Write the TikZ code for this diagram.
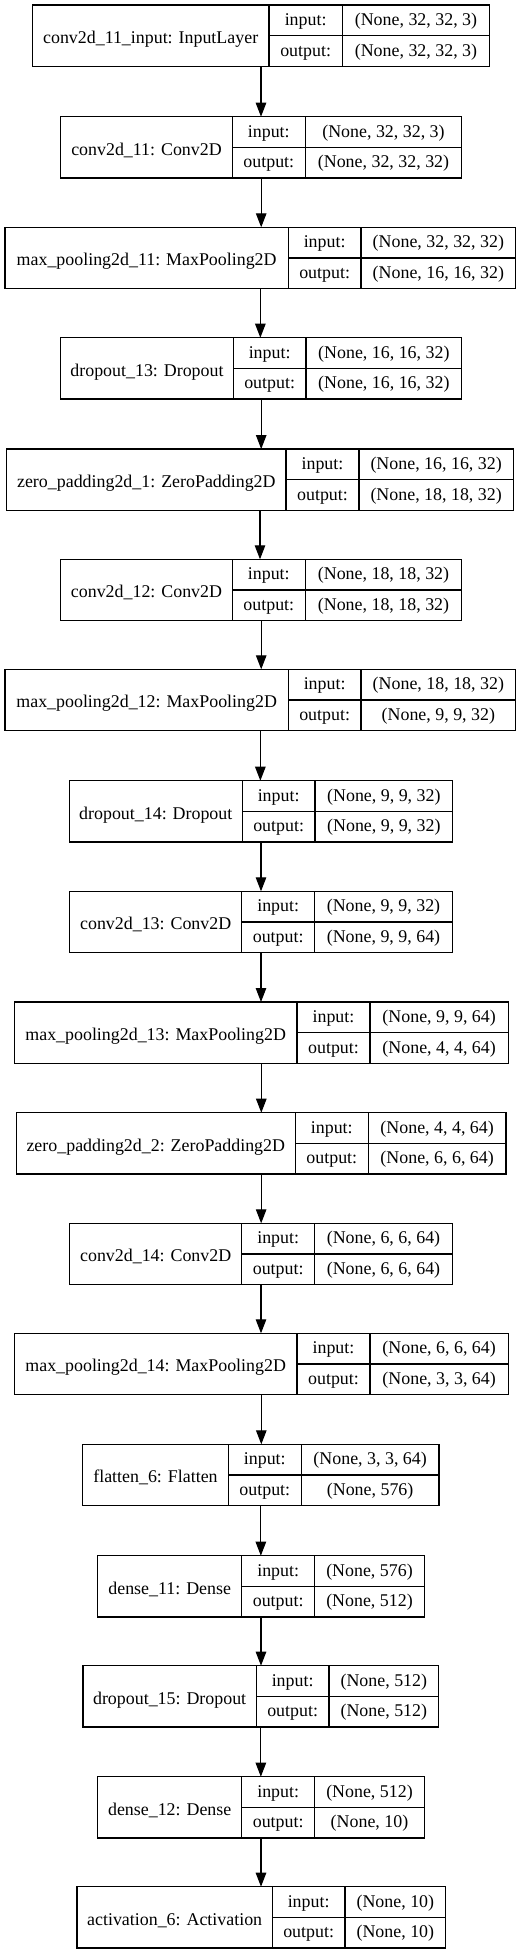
\documentclass[tikz,border=0pt]{standalone}
\usepackage{fontspec}
\setmainfont{Liberation Serif}
\usetikzlibrary{arrows.meta}
\tikzset{
  layerbox/.style={draw=black, line width=1.1pt, rectangle, inner sep=0pt, outer sep=0pt, anchor=north west},
  sepline/.style={draw=black, line width=1.1pt},
  txt/.style={anchor=base, inner sep=0pt, font=\fontsize{17.9}{20}\selectfont},
  flow/.style={draw=black, line width=1.1pt, -{Triangle[length=14pt,width=10.5pt]}}
}
% #1 name, #2 top, #3 left, #4 first divider, #5 second divider, #6 right, #7 label, #8 input, #9 output
\newcommand{\kerasLayer}[9]{%
  \node[layerbox, minimum width={#6pt-#3pt}, minimum height=61.3pt] (#1) at (#3,#2) {};
  \draw[sepline] (#4,#2) -- (#4,{#2+61.3});
  \draw[sepline] (#5,#2) -- (#5,{#2+61.3});
  \draw[sepline] (#4,{#2+30.65}) -- (#6,{#2+30.65});
  \node[txt] (#1-name) at ({(#3+#4)/2},{#2+30.65+8}) {#7};
  \node[txt] (#1-inl) at ({(#4+#5)/2},{#2+15.3+5}) {input:};
  \node[txt] (#1-inv) at ({(#5+#6)/2},{#2+15.3+5}) {#8};
  \node[txt] (#1-outl) at ({(#4+#5)/2},{#2+46+5}) {output:};
  \node[txt] (#1-outv) at ({(#5+#6)/2},{#2+46+5}) {#9};
}
\begin{document}
\begin{tikzpicture}[x=1pt,y=-1pt]
\fill[white] (0,0) rectangle (527,1955);
\useasboundingbox (0,0) rectangle (527,1955);
\kerasLayer{l1}{5}{32.3}{269}{342.3}{489.7}{conv2d\_11\_input: InputLayer}{(None, 32, 32, 3)}{(None, 32, 32, 3)}
\kerasLayer{l2}{116.7}{60.7}{232.3}{305.3}{461.7}{conv2d\_11: Conv2D}{(None, 32, 32, 3)}{(None, 32, 32, 32)}
\kerasLayer{l3}{227.3}{5}{288.3}{361}{515.7}{max\_pooling2d\_11: MaxPooling2D}{(None, 32, 32, 32)}{(None, 16, 16, 32)}
\kerasLayer{l4}{337.7}{60.7}{233.3}{306}{461.7}{dropout\_13: Dropout}{(None, 16, 16, 32)}{(None, 16, 16, 32)}
\kerasLayer{l5}{449}{6.7}{286}{359}{513.3}{zero\_padding2d\_1: ZeroPadding2D}{(None, 16, 16, 32)}{(None, 18, 18, 32)}
\kerasLayer{l6}{559.3}{60.7}{232.3}{305.3}{461.7}{conv2d\_12: Conv2D}{(None, 18, 18, 32)}{(None, 18, 18, 32)}
\kerasLayer{l7}{669.3}{5}{288.3}{361}{515.7}{max\_pooling2d\_12: MaxPooling2D}{(None, 18, 18, 32)}{(None, 9, 9, 32)}
\kerasLayer{l8}{780.7}{69.3}{242.3}{315}{452.7}{dropout\_14: Dropout}{(None, 9, 9, 32)}{(None, 9, 9, 32)}
\kerasLayer{l9}{891.3}{69.7}{241.7}{314.7}{452.3}{conv2d\_13: Conv2D}{(None, 9, 9, 32)}{(None, 9, 9, 64)}
\kerasLayer{l10}{1002}{14.3}{297}{370}{508.3}{max\_pooling2d\_13: MaxPooling2D}{(None, 9, 9, 64)}{(None, 4, 4, 64)}
\kerasLayer{l11}{1112.7}{16.3}{295.3}{368.3}{506}{zero\_padding2d\_2: ZeroPadding2D}{(None, 4, 4, 64)}{(None, 6, 6, 64)}
\kerasLayer{l12}{1223.3}{69.7}{241.7}{314.7}{452.3}{conv2d\_14: Conv2D}{(None, 6, 6, 64)}{(None, 6, 6, 64)}
\kerasLayer{l13}{1333.3}{14.3}{297}{370}{508.3}{max\_pooling2d\_14: MaxPooling2D}{(None, 6, 6, 64)}{(None, 3, 3, 64)}
\kerasLayer{l14}{1444.3}{82.7}{228.3}{301.3}{439}{flatten\_6: Flatten}{(None, 3, 3, 64)}{(None, 576)}
\kerasLayer{l15}{1555.7}{97.7}{241.7}{314.7}{424.3}{dense\_11: Dense}{(None, 576)}{(None, 512)}
\kerasLayer{l16}{1665.7}{83}{256.3}{329}{438.7}{dropout\_15: Dropout}{(None, 512)}{(None, 512)}
\kerasLayer{l17}{1776.7}{97.7}{241.7}{314.7}{424.3}{dense\_12: Dense}{(None, 512)}{(None, 10)}
\kerasLayer{l18}{1886.7}{77}{272.3}{345}{445.7}{activation\_6: Activation}{(None, 10)}{(None, 10)}
\foreach \a/\b in {l1/l2,l2/l3,l3/l4,l4/l5,l5/l6,l6/l7,l7/l8,l8/l9,l9/l10,l10/l11,l11/l12,l12/l13,l13/l14,l14/l15,l15/l16,l16/l17,l17/l18}
  \draw[flow] (\a.south) -- (\a.south |- \b.north);
\end{tikzpicture}
\end{document}
